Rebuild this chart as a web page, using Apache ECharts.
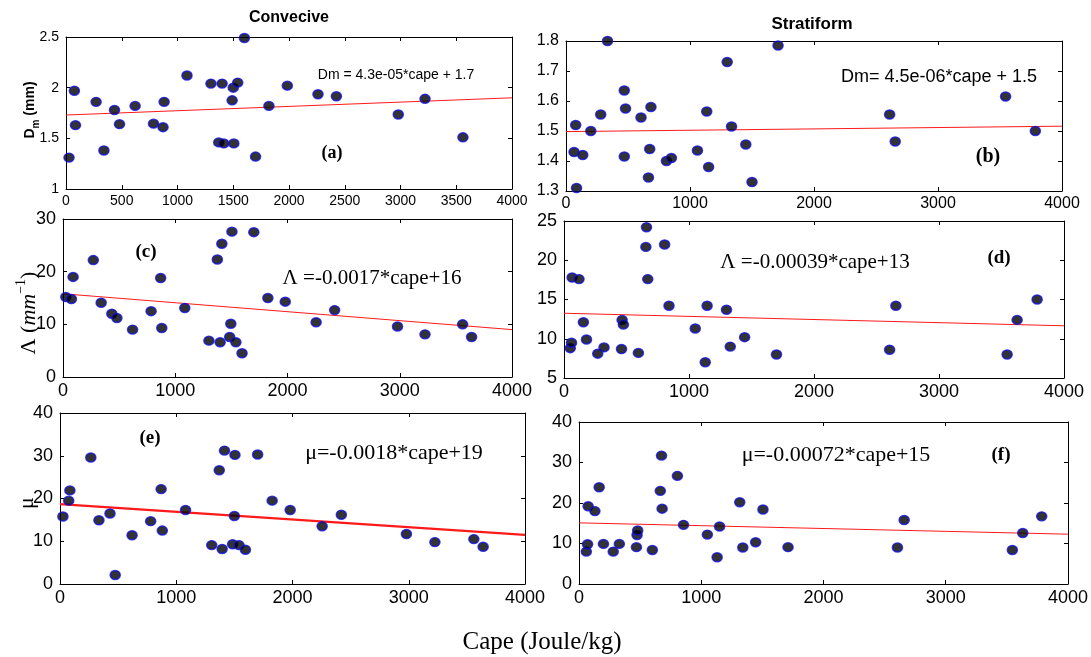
<!DOCTYPE html>
<html>
<head>
<meta charset="utf-8">
<script src="https://cdn.jsdelivr.net/npm/echarts@6/dist/echarts.min.js"></script>
<style>
html,body{margin:0;padding:0;background:#fff;}
#chart{width:1091px;height:657px;}
</style>
</head>
<body>
<div id="chart"></div>
<script>
// ---------- DATA ----------
// Convective events
const capeA = [27,75,85,270,340,435,480,620,785,870,880,1085,1300,1370,1400,1415,1490,1500,1505,1540,1600,1700,1820,1985,2260,2425,2980,3220,3560];
const dmConv = [1.31,1.97,1.63,1.86,1.38,1.78,1.64,1.82,1.645,1.61,1.86,2.12,2.04,1.46,2.04,1.45,1.875,2.0,1.45,2.05,2.49,1.32,1.82,2.02,1.935,1.915,1.735,1.89,1.51];
const capeC = [25,75,90,270,340,435,480,620,785,870,880,1085,1300,1375,1400,1415,1485,1495,1505,1540,1595,1700,1825,1980,2255,2420,2980,3225,3560,3640];
const lambdaConv = [15.2,14.8,19.0,22.2,14.1,12.0,11.2,9.0,12.5,18.8,9.3,13.1,6.9,22.3,6.6,25.3,7.6,10.1,27.6,6.6,4.5,27.5,15.0,14.3,10.4,12.7,9.6,8.1,10.0,7.6];
const capeE = [25,75,85,265,335,430,475,620,780,870,880,1080,1305,1370,1395,1415,1485,1500,1505,1540,1595,1700,1825,1980,2255,2420,2980,3225,3560,3640];
const muConv = [15.8,19.5,21.9,29.6,14.9,16.5,2.1,11.4,14.7,22.2,12.5,17.3,9.1,26.6,8.2,31.2,9.3,15.9,30.2,9.1,8.0,30.3,19.5,17.3,13.5,16.2,11.7,9.8,10.5,8.7];
// Stratiform events
const capeB = [65,78,85,135,200,280,335,470,480,470,605,685,675,665,810,850,1060,1135,1150,1300,1335,1450,1500,1710,2610,2655,3545,3785];
const dmStrat = [1.43,1.52,1.31,1.42,1.50,1.555,1.80,1.635,1.575,1.415,1.545,1.58,1.44,1.345,1.40,1.41,1.435,1.565,1.38,1.73,1.515,1.455,1.33,1.785,1.555,1.465,1.615,1.50];
const capeD = [50,60,65,120,155,180,270,320,465,475,460,595,660,655,670,805,840,1050,1130,1145,1300,1330,1445,1700,2605,2655,3545,3625,3785];
const lambdaStrat = [8.8,9.5,17.8,17.6,12.1,9.9,8.1,8.9,12.4,11.8,8.7,8.2,24.2,21.7,17.6,22.0,14.2,11.3,7.0,14.2,13.7,9.0,10.2,8.0,8.6,14.2,8.0,12.4,15.0];
const capeF = [60,70,75,130,165,200,280,330,470,475,480,600,675,665,680,805,855,1050,1130,1150,1315,1340,1445,1505,1710,2605,2660,3545,3630,3785];
const muStrat = [8.0,9.8,19.2,18.0,23.9,9.9,8.0,9.9,9.1,12.1,13.2,8.4,31.7,23.0,18.6,26.7,14.6,12.2,6.6,14.2,20.2,9.0,10.3,18.4,9.1,9.0,15.8,8.4,12.6,16.7];
// Fitted lines: value at cape = 0 and cape = 4000
const fitCape = [0, 4000];
const fitA = [1.73, 1.90];
const fitB = [1.498, 1.516];
const fitC = [15.8, 9.0];
const fitD = [13.25, 11.65];
const fitE = [18.7, 11.5];
const fitF = [15.1, 12.3];
// Text
const titles = ['Convecive', 'Stratiform'];
const equations = ['Dm = 4.3e-05*cape + 1.7', 'Dm= 4.5e-06*cape + 1.5', 'Λ =-0.0017*cape+16', 'Λ =-0.00039*cape+13', 'μ=-0.0018*cape+19', 'μ=-0.00072*cape+15'];
const panelTags = ['(a)', '(b)', '(c)', '(d)', '(e)', '(f)'];
const xAxisTitle = 'Cape (Joule/kg)';

// ---------- LAYOUT ----------
const SANS = 'Liberation Sans, Arial, sans-serif';
const SERIF = 'Liberation Serif, Times New Roman, serif';
const panels = [
  {grid:{left:66, top:37, width:446, height:152}, x:[0,4000,500], y:[1,2.5,0.5], fs:14, xs:capeA, ys:dmConv, fit:fitA, lw:1},
  {grid:{left:566, top:41, width:496, height:150}, x:[0,4000,1000], y:[1.3,1.8,0.1], fs:16, xs:capeB, ys:dmStrat, fit:fitB, lw:1},
  {grid:{left:63, top:219, width:449, height:158}, x:[0,4000,1000], y:[0,30,10], fs:18, xs:capeC, ys:lambdaConv, fit:fitC, lw:1},
  {grid:{left:564, top:221, width:500, height:157}, x:[0,4000,1000], y:[5,25,5], fs:18, xs:capeD, ys:lambdaStrat, fit:fitD, lw:1},
  {grid:{left:60, top:413, width:465, height:171}, x:[0,4000,1000], y:[0,40,10], fs:18, xs:capeE, ys:muConv, fit:fitE, lw:2.2},
  {grid:{left:579, top:422, width:492, height:162}, x:[0,4000,1000], y:[0,40,10], fs:18, xs:capeF, ys:muStrat, fit:fitF, lw:1}
];

const plain = v => String(Math.round(v * 100) / 100);
const grids = [], xAxes = [], yAxes = [], series = [];
panels.forEach((p, i) => {
  grids.push(Object.assign({show:false}, p.grid));
  const line = {show:true, onZero:false, lineStyle:{color:'#000', width:1}};
  const tick = {show:true, inside:true, length:4, lineStyle:{color:'#000', width:1}};
  const lab = {color:'#000', fontSize:p.fs, fontFamily:SANS, margin:5, formatter:plain};
  xAxes.push({gridIndex:i, type:'value', position:'bottom', min:p.x[0], max:p.x[1], interval:p.x[2],
    axisLine:line, axisTick:tick, axisLabel:lab, splitLine:{show:false}});
  xAxes.push({gridIndex:i, type:'value', position:'top', min:p.x[0], max:p.x[1], interval:p.x[2],
    axisLine:line, axisTick:tick, axisLabel:{show:false}, splitLine:{show:false}});
  yAxes.push({gridIndex:i, type:'value', position:'left', min:p.y[0], max:p.y[1], interval:p.y[2],
    axisLine:line, axisTick:tick, axisLabel:Object.assign({}, lab, {margin:7}), splitLine:{show:false}});
  yAxes.push({gridIndex:i, type:'value', position:'right', min:p.y[0], max:p.y[1], interval:p.y[2],
    axisLine:line, axisTick:tick, axisLabel:{show:false}, splitLine:{show:false}});
  series.push({type:'line', xAxisIndex:2*i, yAxisIndex:2*i, data:fitCape.map((c,k)=>[c, p.fit[k]]),
    symbol:'none', silent:true, z:3, lineStyle:{color:'#ff1a1a', width:p.lw}});
  series.push({type:'scatter', xAxisIndex:2*i, yAxisIndex:2*i, clip:false, z:4,
    data:p.xs.map((c,k)=>[c, p.ys[k]]), symbol:'circle', symbolSize:[10,9],
    itemStyle:{color:'#000', borderColor:'#1010e0', borderWidth:1.5}});
});

function txt(x, y, text, font) {
  return {type:'text', x:x, y:y, silent:true,
    style:{text:text, font:font, fill:'#000', align:'center', verticalAlign:'middle'}};
}

const graphic = [
  txt(289, 18, titles[0], 'bold 16px ' + SANS),
  txt(812, 24, titles[1], 'bold 17px ' + SANS),
  txt(396, 75, equations[0], '14px ' + SANS),
  txt(939, 77, equations[1], '18px ' + SANS),
  txt(372, 278, equations[2], '21px ' + SERIF),
  txt(815, 262, equations[3], '21px ' + SERIF),
  txt(394, 453, equations[4], '22px ' + SERIF),
  txt(836, 455, equations[5], '22px ' + SERIF),
  txt(332, 153, panelTags[0], 'bold 18px ' + SERIF),
  txt(988, 157, panelTags[1], 'bold 20px ' + SERIF),
  txt(146, 252, panelTags[2], 'bold 19px ' + SERIF),
  txt(999, 258, panelTags[3], 'bold 19px ' + SERIF),
  txt(150, 438, panelTags[4], 'bold 19px ' + SERIF),
  txt(1001, 455, panelTags[5], 'bold 19px ' + SERIF),
  txt(542, 642, xAxisTitle, '25px ' + SERIF),
  // y axis names
  {type:'text', x:32, y:110, rotation:Math.PI/2, silent:true,
    style:{text:'{b|D}{s|m}{b| (mm)}', align:'center', verticalAlign:'middle', fill:'#000',
      rich:{b:{font:'bold 14px ' + SANS, lineHeight:18, verticalAlign:'top'},
            s:{font:'bold 10px ' + SANS, lineHeight:18, verticalAlign:'bottom', padding:[6,0,0,0]}}}},
  {type:'text', x:27, y:313, rotation:Math.PI/2, silent:true,
    style:{text:'{n|Λ (}{i|mm}{p|−1}{n|)}', align:'center', verticalAlign:'middle', fill:'#000',
      rich:{n:{font:'22px ' + SERIF, lineHeight:26, verticalAlign:'bottom'},
            i:{font:'italic 22px ' + SERIF, lineHeight:26, verticalAlign:'bottom'},
            p:{font:'14px ' + SERIF, lineHeight:26, verticalAlign:'top'}}}},
  {type:'text', x:27, y:503, rotation:Math.PI/2, silent:true,
    style:{text:'μ', font:'22px ' + SERIF, align:'center', verticalAlign:'middle', fill:'#000'}}
];

const chart = echarts.init(document.getElementById('chart'), null, {renderer:'canvas'});
chart.setOption({
  animation:false,
  backgroundColor:'#fff',
  grid:grids, xAxis:xAxes, yAxis:yAxes, series:series, graphic:graphic
});
</script>
</body>
</html>
